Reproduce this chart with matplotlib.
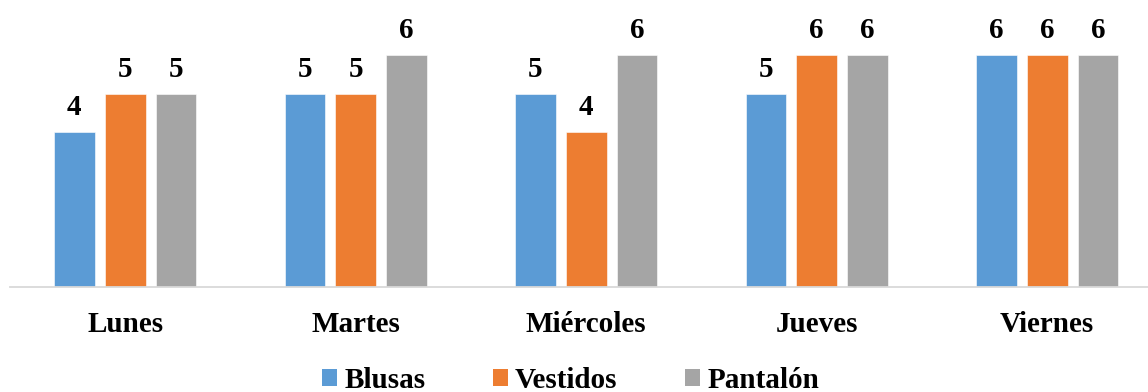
import matplotlib
matplotlib.use("Agg")
import matplotlib.pyplot as plt
from matplotlib.transforms import blended_transform_factory
from matplotlib.patches import Patch
import numpy as np

categories = ["Lunes", "Martes", "Miércoles", "Jueves", "Viernes"]
series_names = ["Blusas", "Vestidos", "Pantalón"]
blusas = [4, 5, 5, 5, 6]
vestidos = [5, 5, 4, 6, 6]
pantalon = [5, 6, 6, 6, 6]
colors = ["#5B9BD5", "#ED7D31", "#A5A5A5"]

plt.rcParams['font.family'] = ['Liberation Serif', 'DejaVu Serif']
FS = 21

W, H = 1148, 392
fig = plt.figure(figsize=(W / 100, H / 100), dpi=100)
base_px = 286.7
unit_px = 38.6
ax = fig.add_axes([10 / W, (H - base_px) / H, 1152.5 / W, 7 * unit_px / H])

x = np.arange(len(categories))
width = 0.176
step = 0.221
series = [blusas, vestidos, pantalon]
for i, (vals, name, c) in enumerate(zip(series, series_names, colors)):
    xs = x + (i - 1) * step
    bars = ax.bar(xs, vals, width, color=c, edgecolor="white", linewidth=0.4, label=name)
    for xi, v in zip(xs, vals):
        ax.annotate(str(v), (xi, v), xytext=(0, 12.2), textcoords="offset points",
                    ha="center", va="baseline", fontsize=FS, fontweight="bold")

ax.set_xlim(-0.5, len(categories) - 0.5)
ax.set_ylim(0, 7)
for s in ["top", "right", "left"]:
    ax.spines[s].set_visible(False)
ax.spines["bottom"].set_color("#d9d9d9")
ax.spines["bottom"].set_linewidth(1.3)
ax.set_yticks([])
ax.set_xticks(x)
ax.set_xticklabels([])
ax.tick_params(axis="x", length=0)

trans = blended_transform_factory(ax.transData, ax.transAxes)
label_y = -(331.7 - base_px) / (7 * unit_px)
for xi, cat in zip(x, categories):
    ax.text(xi, label_y, cat, transform=trans, ha="center", va="baseline",
            fontsize=FS, fontweight="bold")

handles = [Patch(facecolor=c, edgecolor="none") for c in colors]
leg = fig.legend(handles, series_names, loc="center", bbox_to_anchor=(570.5 / W, 1 - 380.5 / H),
                 ncol=3, frameon=False, prop={"size": FS, "weight": "bold"},
                 handlelength=0.52, handleheight=0.52, handletextpad=0.25,
                 columnspacing=2.3, borderaxespad=0, borderpad=0)

fig.savefig("out.png", dpi=100)
